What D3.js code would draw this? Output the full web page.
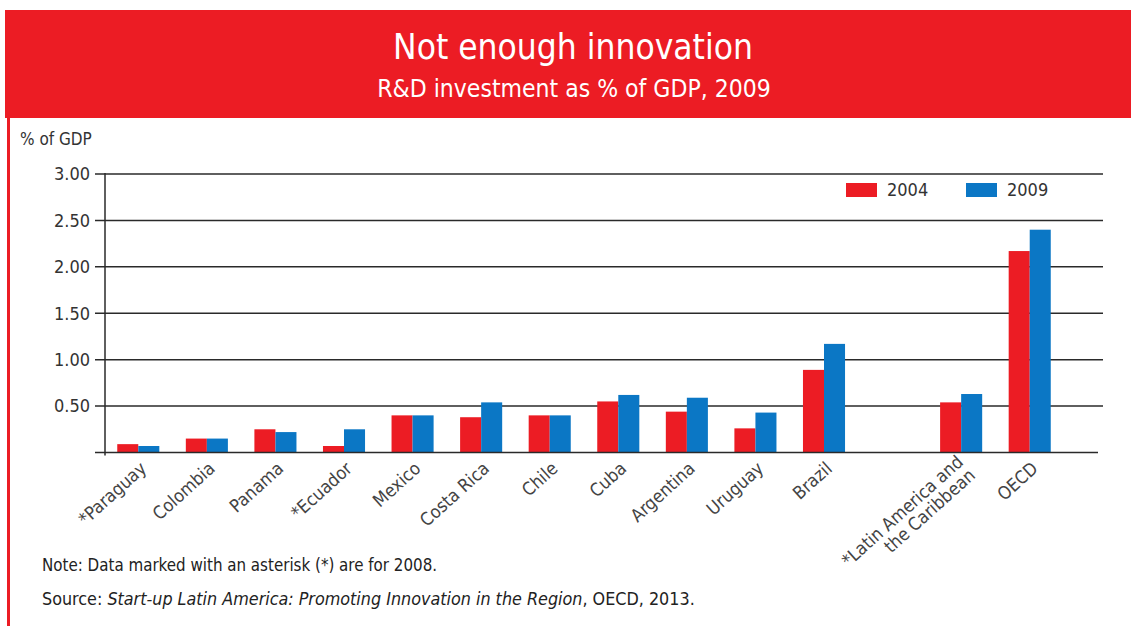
<!DOCTYPE html>
<html>
<head>
<meta charset="utf-8">
<script src="https://cdn.jsdelivr.net/npm/d3@7"></script>
<style>
  body { margin: 0; background: #fff; }
  text { font-family: "DejaVu Sans Condensed", "Liberation Sans Narrow", sans-serif; }
</style>
</head>
<body>
<script>
var categories = ["*Paraguay", "Colombia", "Panama", "*Ecuador", "Mexico", "Costa Rica",
  "Chile", "Cuba", "Argentina", "Uruguay", "Brazil"];
var aggregates = ["*Latin America and\nthe Caribbean", "OECD"];
var years = ["2004", "2009"];
var values2004 = [0.09, 0.15, 0.25, 0.07, 0.40, 0.38, 0.40, 0.55, 0.44, 0.26, 0.89, 0.54, 2.17];
var values2009 = [0.07, 0.15, 0.22, 0.25, 0.40, 0.54, 0.40, 0.62, 0.59, 0.43, 1.17, 0.63, 2.40];
var yTicks = [0.5, 1, 1.5, 2, 2.5, 3];

var red = "#ec1c24", blue = "#0b77c5";
var W = 1131, H = 626;

var svg = d3.select("body").append("svg")
  .attr("width", W)
  .attr("height", H);

// header band
svg.append("rect")
  .attr("x", 5).attr("y", 10)
  .attr("width", W - 5).attr("height", 108)
  .attr("fill", red);
svg.append("line")
  .attr("x1", 8.5).attr("x2", 8.5)
  .attr("y1", 118).attr("y2", H)
  .attr("stroke", red).attr("stroke-width", 3);

svg.append("text")
  .attr("x", 573).attr("y", 59)
  .attr("text-anchor", "middle")
  .attr("fill", "#fff")
  .style("font-size", "35px")
  .text("Not enough innovation");
svg.append("text")
  .attr("x", 574).attr("y", 97)
  .attr("text-anchor", "middle")
  .attr("fill", "#fff")
  .style("font-size", "24.5px")
  .text("R&D investment as % of GDP, 2009");

// scales
var slots = categories.concat([" "], aggregates);
var rows = categories.concat(aggregates).map(function(c, i) {
  return { name: c, v: [values2004[i], values2009[i]] };
});

var x = d3.scaleBand()
  .domain(slots)
  .range([104, 1064])
  .padding(0);

var xSub = d3.scaleBand()
  .domain(years)
  .range([0, x.bandwidth()])
  .paddingInner(0)
  .paddingOuter(0.63);

var y = d3.scaleLinear()
  .domain([0, 3])
  .range([452.5, 174]);

var axisX = 105;

// gridlines + ticks
var grid = svg.append("g");
grid.selectAll("line.grid")
  .data(yTicks)
  .enter().append("line")
  .attr("x1", 95).attr("x2", 1103)
  .attr("y1", function(d) { return y(d); })
  .attr("y2", function(d) { return y(d); })
  .attr("stroke", "#2a2a2a").attr("stroke-width", 1.5);

grid.selectAll("text")
  .data(yTicks)
  .enter().append("text")
  .attr("x", 90)
  .attr("y", function(d) { return y(d); })
  .attr("dy", "0.35em")
  .attr("text-anchor", "end")
  .attr("fill", "#333")
  .style("font-size", "18px")
  .text(function(d) { return d3.format(".2f")(d); });

svg.append("text")
  .attr("x", 20).attr("y", 145)
  .attr("fill", "#333")
  .style("font-size", "17px")
  .text("% of GDP");

// bars
var groups = svg.selectAll("g.cat")
  .data(rows)
  .enter().append("g")
  .attr("class", "cat")
  .attr("transform", function(d) { return "translate(" + x(d.name) + ",0)"; });

groups.selectAll("rect")
  .data(function(d) { return d.v.map(function(v, i) { return { year: years[i], v: v }; }); })
  .enter().append("rect")
  .attr("x", function(d) { return xSub(d.year); })
  .attr("width", xSub.bandwidth())
  .attr("y", function(d) { return y(d.v); })
  .attr("height", function(d) { return y(0) - y(d.v); })
  .attr("fill", function(d) { return d.year === "2004" ? red : blue; });

// baseline + axis
svg.append("line")
  .attr("x1", 95).attr("x2", 1098)
  .attr("y1", y(0)).attr("y2", y(0))
  .attr("stroke", "#2a2a2a").attr("stroke-width", 1.5);
svg.append("line")
  .attr("x1", axisX).attr("x2", axisX)
  .attr("y1", y(3) - 1).attr("y2", y(0) + 3)
  .attr("stroke", "#2a2a2a").attr("stroke-width", 1.5);

// category labels
groups.append("text")
  .attr("text-anchor", "end")
  .attr("fill", "#444")
  .style("font-size", "18px")
  .attr("transform", function(d) {
    return "translate(" + (x.bandwidth() / 2 + 5) + "," + (y(0) + 13) + ") rotate(-42)";
  })
  .each(function(d) {
    var lines = d.name.split("\n");
    var t = d3.select(this);
    lines.forEach(function(l, i) {
      t.append("tspan")
        .attr("x", 0)
        .attr("y", (i - (lines.length - 1) / 2) * 18)
        .attr("dy", "0.35em")
        .text(l);
    });
  });

// legend
var legend = svg.selectAll("g.legend")
  .data(years)
  .enter().append("g")
  .attr("class", "legend")
  .attr("transform", function(d, i) { return "translate(" + (846 + i * 120) + ",183)"; });
legend.append("rect")
  .attr("width", 31).attr("height", 14)
  .attr("fill", function(d) { return d === "2004" ? red : blue; });
legend.append("text")
  .attr("x", 41).attr("y", 7)
  .attr("dy", "0.35em")
  .attr("fill", "#333")
  .style("font-size", "18px")
  .text(function(d) { return d; });

// notes
svg.append("text")
  .attr("x", 42).attr("y", 571)
  .attr("fill", "#222")
  .style("font-size", "16.8px")
  .text("Note: Data marked with an asterisk (*) are for 2008.");

var src = svg.append("text")
  .attr("x", 42).attr("y", 605)
  .attr("fill", "#222")
  .style("font-size", "17.8px");
src.append("tspan").text("Source: ");
src.append("tspan").style("font-style", "italic").text("Start-up Latin America: Promoting Innovation in the Region");
src.append("tspan").text(", OECD, 2013.");
</script>
</body>
</html>
